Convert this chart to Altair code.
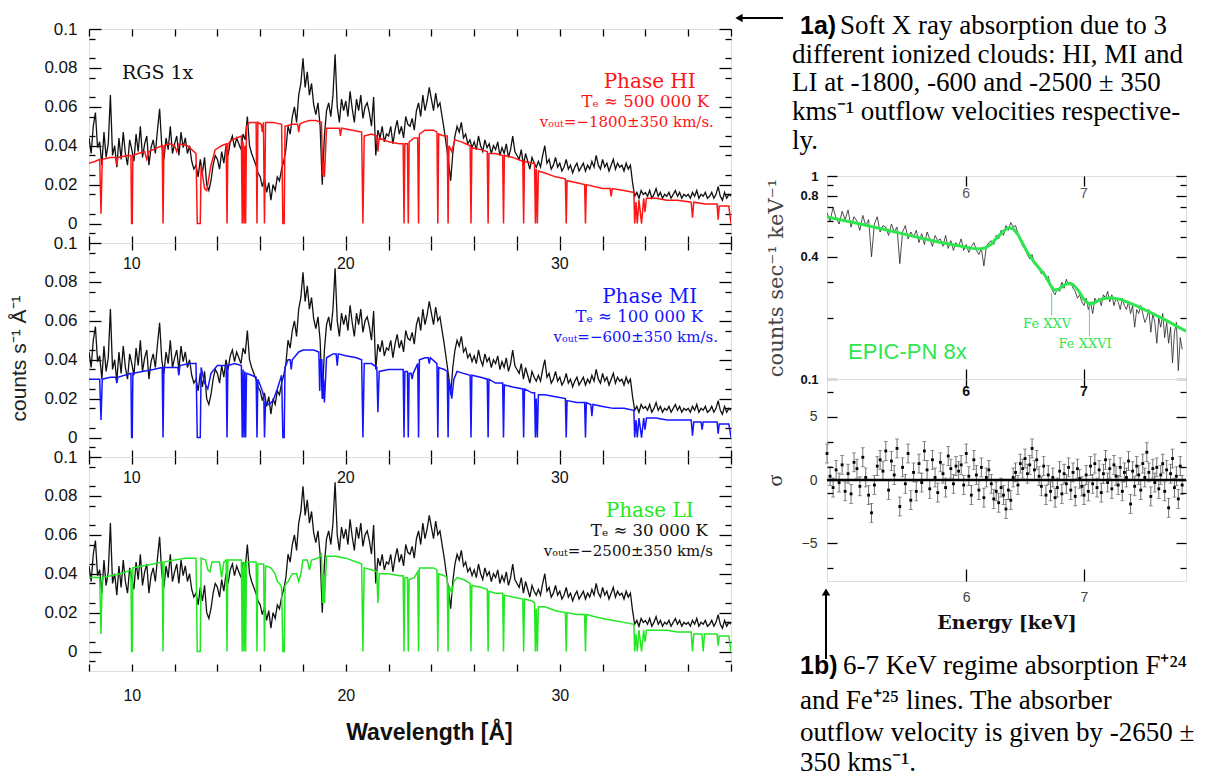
import altair as alt
import pandas as pd

SANS = "Liberation Sans"
SERIF = "Liberation Serif"
WIDE_SERIF = "DejaVu Serif"
RED = "#ff1414"
BLUE = "#1414ff"
GREEN = "#22e822"
EPIC_GREEN = "#2ee64e"

# ---------------- RGS soft X-ray spectrum ----------------
WAVE = [
    8.0, 8.1, 8.2, 8.3, 8.4, 8.5, 8.6, 8.7, 8.8, 8.9,
    9.0, 9.1, 9.2, 9.3, 9.4, 9.5, 9.6, 9.7, 9.8, 9.9,
    10.0, 10.1, 10.2, 10.3, 10.4, 10.5, 10.6, 10.7, 10.8, 10.9,
    11.0, 11.1, 11.2, 11.3, 11.4, 11.5, 11.6, 11.7, 11.8, 11.9,
    12.0, 12.1, 12.2, 12.3, 12.4, 12.5, 12.6, 12.7, 12.8, 12.9,
    13.0, 13.1, 13.2, 13.3, 13.4, 13.5, 13.6, 13.7, 13.8, 13.9,
    14.0, 14.1, 14.2, 14.3, 14.4, 14.5, 14.6, 14.7, 14.8, 14.9,
    15.0, 15.1, 15.2, 15.3, 15.4, 15.5, 15.6, 15.7, 15.8, 15.9,
    16.0, 16.1, 16.2, 16.3, 16.4, 16.5, 16.6, 16.7, 16.8, 16.9,
    17.0, 17.1, 17.2, 17.3, 17.4, 17.5, 17.6, 17.7, 17.8, 17.9,
    18.0, 18.1, 18.2, 18.3, 18.4, 18.5, 18.6, 18.7, 18.8, 18.9,
    19.0, 19.1, 19.2, 19.3, 19.4, 19.5, 19.6, 19.7, 19.8, 19.9,
    20.0, 20.1, 20.2, 20.3, 20.4, 20.5, 20.6, 20.7, 20.8, 20.9,
    21.0, 21.1, 21.2, 21.3, 21.4, 21.5, 21.6, 21.7, 21.8, 21.9,
    22.0, 22.1, 22.2, 22.3, 22.4, 22.5, 22.6, 22.7, 22.8, 22.9,
    23.0, 23.1, 23.2, 23.3, 23.4, 23.5, 23.6, 23.7, 23.8, 23.9,
    24.0, 24.1, 24.2, 24.3, 24.4, 24.5, 24.6, 24.7, 24.8, 24.9,
    25.0, 25.1, 25.2, 25.3, 25.4, 25.5, 25.6, 25.7, 25.8, 25.9,
    26.0, 26.1, 26.2, 26.3, 26.4, 26.5, 26.6, 26.7, 26.8, 26.9,
    27.0, 27.1, 27.2, 27.3, 27.4, 27.5, 27.6, 27.7, 27.8, 27.9,
    28.0, 28.1, 28.2, 28.3, 28.4, 28.5, 28.6, 28.7, 28.8, 28.9,
    29.0, 29.1, 29.2, 29.3, 29.4, 29.5, 29.6, 29.7, 29.8, 29.9,
    30.0, 30.1, 30.2, 30.3, 30.4, 30.5, 30.6, 30.7, 30.8, 30.9,
    31.0, 31.1, 31.2, 31.3, 31.4, 31.5, 31.6, 31.7, 31.8, 31.9,
    32.0, 32.1, 32.2, 32.3, 32.4, 32.5, 32.6, 32.7, 32.8, 32.9,
    33.0, 33.1, 33.2, 33.3, 33.4, 33.5, 33.6, 33.7, 33.8, 33.9,
    34.0, 34.1, 34.2, 34.3, 34.4, 34.5, 34.6, 34.7, 34.8, 34.9,
    35.0, 35.1, 35.2, 35.3, 35.4, 35.5, 35.6, 35.7, 35.8, 35.9,
    36.0, 36.1, 36.2, 36.3, 36.4, 36.5, 36.6, 36.7, 36.8, 36.9,
    37.0, 37.1, 37.2, 37.3, 37.4, 37.5, 37.6, 37.7, 37.8, 37.9,
    38.0,
]
RGS_FLUX = [
    0.044, 0.036, 0.050, 0.057, 0.039, 0.042, 0.030, 0.047, 0.034, 0.041,
    0.066, 0.035, 0.040, 0.029, 0.044, 0.033, 0.047, 0.036, 0.030, 0.043,
    0.038, 0.032, 0.046, 0.037, 0.050, 0.034, 0.041, 0.045, 0.030, 0.039,
    0.043, 0.036, 0.048, 0.059, 0.040, 0.033, 0.044, 0.038, 0.050, 0.036,
    0.041, 0.045, 0.035, 0.047, 0.039, 0.044, 0.036, 0.040, 0.032, 0.028,
    0.030, 0.024, 0.033, 0.026, 0.034, 0.020, 0.017, 0.022, 0.030, 0.035,
    0.033, 0.028, 0.037, 0.031, 0.040, 0.035, 0.042, 0.045, 0.039, 0.044,
    0.041, 0.038, 0.046, 0.043, 0.055, 0.040, 0.036, 0.033, 0.030, 0.026,
    0.024, 0.019, 0.023, 0.016, 0.021, 0.012, 0.020, 0.017, 0.024, 0.022,
    0.028, 0.032, 0.038, 0.050, 0.046, 0.055, 0.060, 0.052, 0.066, 0.072,
    0.085, 0.070, 0.078, 0.066, 0.072, 0.061, 0.056, 0.062, 0.050, 0.020,
    0.045, 0.058, 0.062, 0.055, 0.066, 0.087, 0.060, 0.052, 0.064, 0.058,
    0.063, 0.055, 0.068, 0.059, 0.052, 0.064, 0.058, 0.066, 0.054, 0.060,
    0.062, 0.057, 0.050, 0.065, 0.035, 0.048, 0.044, 0.050, 0.042, 0.046,
    0.045, 0.050, 0.041, 0.048, 0.053, 0.046, 0.050, 0.044, 0.055, 0.051,
    0.050, 0.054, 0.048, 0.058, 0.062, 0.055, 0.066, 0.058, 0.063, 0.070,
    0.064, 0.058, 0.067, 0.060, 0.062, 0.055, 0.048, 0.040, 0.032, 0.022,
    0.036, 0.045, 0.050, 0.047, 0.052, 0.044, 0.046, 0.041, 0.043, 0.039,
    0.042, 0.038, 0.045, 0.040, 0.037, 0.043, 0.039, 0.041, 0.036, 0.040,
    0.038, 0.042, 0.035, 0.039, 0.036, 0.041, 0.034, 0.038, 0.045, 0.037,
    0.035, 0.033, 0.038, 0.030, 0.036, 0.032, 0.028, 0.034, 0.031, 0.029,
    0.032, 0.029, 0.035, 0.040, 0.031, 0.033, 0.028, 0.030, 0.034, 0.029,
    0.031, 0.027, 0.029, 0.033, 0.028, 0.030, 0.026, 0.029, 0.031, 0.027,
    0.029, 0.031, 0.027, 0.030, 0.028, 0.032, 0.029, 0.035, 0.030, 0.028,
    0.033, 0.029, 0.031, 0.027, 0.030, 0.033, 0.028, 0.031, 0.029, 0.030,
    0.027, 0.031, 0.028, 0.030, 0.021, 0.014, 0.016, 0.013, 0.017, 0.015,
    0.016, 0.014, 0.017, 0.013, 0.015, 0.018, 0.014, 0.016, 0.013, 0.015,
    0.014, 0.016, 0.013, 0.015, 0.017, 0.014, 0.016, 0.013, 0.015, 0.014,
    0.015, 0.013, 0.016, 0.014, 0.017, 0.013, 0.015, 0.014, 0.016, 0.013,
    0.014, 0.016, 0.013, 0.015, 0.019, 0.014, 0.012, 0.016, 0.013, 0.015,
    0.014,
]

# model absorption spectra (wavelength, flux)
HI_MODEL = [
    (8.0, .031), (8.3, .032), (8.5, .033), (8.56, .005), (8.62, .033), (9.0, .034), (9.25, .034), (9.3, .030),
    (9.35, .034), (9.8, .035), (9.96, .035), (9.99, 0), (10.02, 0), (10.05, .035), (10.3, .036), (10.6, .037),
    (10.7, .033), (10.8, .037), (11.2, .039), (11.42, .040), (11.46, 0), (11.5, .040), (11.8, .041), (12.0, .040),
    (12.1, .037), (12.2, .041), (12.6, .040), (12.8, .038), (13.0, .036), (13.06, 0), (13.2, 0), (13.24, .030),
    (13.4, .018), (13.5, .017), (13.7, .030), (13.9, .038), (14.2, .040), (14.41, .041), (14.45, 0), (14.49, .041),
    (14.7, .043), (14.9, .044), (15.12, .045), (15.16, 0), (15.2, .042), (15.24, 0), (15.28, .040), (15.32, 0),
    (15.36, .050), (15.5, .052), (15.81, .052), (15.85, 0), (15.89, .052), (16.05, .051), (16.1, .047), (16.15, .052),
    (16.2, 0), (16.25, .052), (16.6, .052), (17.0, .051), (17.06, 0), (17.12, 0), (17.16, .050), (17.5, .051),
    (17.75, .051), (17.8, .047), (17.85, .051), (18.0, .052), (18.3, .053), (18.6, .053), (18.86, .052), (18.92, .025),
    (18.96, .032), (19.0, .024), (19.1, .049), (19.5, .049), (19.7, .049), (19.75, .045), (19.8, .049), (20.3, .048),
    (20.74, .047), (20.8, 0), (20.86, .045), (21.2, .046), (21.45, .045), (21.5, .037), (21.56, .044), (22.0, .042),
    (22.5, .041), (22.68, .041), (22.72, 0), (22.76, .041), (22.88, .041), (22.92, 0), (22.96, .042), (23.2, .044),
    (23.36, .044), (23.4, 0), (23.44, .046), (23.7, .048), (24.1, .048), (24.26, .047), (24.3, 0), (24.34, .046),
    (24.6, .045), (24.74, .045), (24.78, 0), (24.82, .040), (24.95, .037), (25.1, .043), (25.4, .042), (25.6, .041),
    (25.81, .040), (25.85, 0), (25.89, .039), (26.3, .038), (26.61, .037), (26.65, 0), (26.69, .036), (27.0, .036),
    (27.33, .035), (27.37, 0), (27.41, .035), (27.8, .034), (28.27, .032), (28.31, 0), (28.35, .032), (28.7, .031),
    (28.82, .031), (28.86, 0), (28.9, .028), (28.95, 0), (29.0, .027), (29.3, .026), (29.8, .024), (30.26, .023),
    (30.3, 0), (30.34, .022), (30.8, .021), (31.16, .020), (31.2, 0), (31.24, .020), (31.6, .019), (32.0, .018),
    (32.35, .018), (32.4, .014), (32.45, .018), (33.0, .017), (33.46, .016), (33.5, 0), (33.56, .011), (33.62, 0),
    (33.7, .012), (33.82, 0), (33.92, .013), (33.98, .006), (34.05, .013), (34.5, .013), (35.0, .012), (35.5, .012),
    (36.14, .011), (36.2, .003), (36.26, .011), (36.8, .010), (37.35, .010), (37.4, .002), (37.45, .009), (37.9, .009),
    (38.0, 0),
]
MI_MODEL = [
    (8.0, .030), (8.5, .030), (8.56, .009), (8.62, .030), (9.0, .031), (9.25, .031), (9.3, .028), (9.35, .031),
    (9.96, .033), (9.99, 0), (10.02, 0), (10.05, .033), (10.5, .034), (11.0, .035), (11.42, .036), (11.46, 0),
    (11.5, .036), (12.0, .036), (12.15, .036), (12.2, .032), (12.25, .037), (12.7, .038), (13.0, .038), (13.06, 0),
    (13.2, 0), (13.24, .036), (13.4, .028), (13.55, .025), (13.7, .033), (14.0, .037), (14.41, .037), (14.45, 0),
    (14.49, .037), (14.8, .038), (15.12, .037), (15.16, 0), (15.2, .035), (15.24, 0), (15.28, .034), (15.32, 0),
    (15.36, .033), (15.6, .032), (15.81, .031), (15.85, 0), (15.89, .030), (16.1, .024), (16.17, .021), (16.2, 0),
    (16.25, .018), (16.4, .017), (16.6, .019), (16.8, .025), (17.0, .032), (17.06, 0), (17.12, 0), (17.16, .036),
    (17.3, .040), (17.4, .040), (17.45, .035), (17.5, .040), (17.8, .044), (18.0, .045), (18.5, .045), (18.74, .044),
    (18.78, .024), (18.82, .040), (18.88, .040), (18.92, .020), (18.96, .030), (19.0, .018), (19.1, .041), (19.4, .043),
    (19.55, .043), (19.6, .037), (19.65, .043), (20.0, .042), (20.5, .041), (20.74, .040), (20.8, 0), (20.86, .038),
    (21.2, .038), (21.45, .036), (21.5, .013), (21.56, .034), (22.0, .035), (22.5, .035), (22.68, .035), (22.72, 0),
    (22.76, .034), (22.88, .034), (22.92, 0), (22.96, .033), (23.05, .033), (23.1, .030), (23.15, .033), (23.36, .038),
    (23.4, 0), (23.44, .040), (23.7, .041), (23.85, .041), (23.9, .038), (23.95, .041), (24.26, .038), (24.3, 0),
    (24.34, .036), (24.6, .035), (24.74, .034), (24.78, 0), (24.82, .030), (24.95, .020), (25.05, .030), (25.2, .034),
    (25.5, .033), (25.81, .032), (25.85, 0), (25.89, .032), (26.3, .031), (26.61, .030), (26.65, 0), (26.69, .030),
    (27.0, .028), (27.33, .028), (27.37, 0), (27.41, .027), (27.8, .026), (28.27, .025), (28.31, 0), (28.35, .025),
    (28.7, .023), (28.82, .023), (28.86, 0), (28.9, .020), (28.95, 0), (29.0, .022), (29.3, .022), (29.8, .021),
    (30.26, .020), (30.3, 0), (30.34, .019), (30.8, .018), (31.16, .018), (31.2, 0), (31.24, .018), (31.45, .017),
    (31.5, .011), (31.55, .017), (32.0, .016), (32.5, .015), (33.0, .015), (33.46, .014), (33.5, 0), (33.56, .009),
    (33.62, 0), (33.7, .010), (33.82, 0), (33.92, .010), (33.98, .004), (34.05, .010), (34.5, .010), (35.0, .009),
    (35.5, .009), (36.14, .009), (36.2, .001), (36.26, .008), (36.6, .008), (36.65, .004), (36.7, .008), (37.35, .008),
    (37.4, .002), (37.45, .007), (37.9, .007), (38.0, 0),
]
LI_MODEL = [
    (8.0, .038), (8.5, .038), (8.56, .009), (8.62, .038), (9.0, .039), (9.5, .040), (9.96, .042), (9.99, 0),
    (10.02, 0), (10.05, .043), (10.5, .044), (11.0, .045), (11.42, .046), (11.46, 0), (11.5, .046), (12.0, .047),
    (12.5, .048), (13.0, .048), (13.06, 0), (13.2, 0), (13.24, .048), (13.45, .047), (13.55, .042), (13.65, .041),
    (13.75, .046), (14.1, .046), (14.2, .038), (14.3, .046), (14.41, .047), (14.45, 0), (14.49, .047), (14.8, .047),
    (15.12, .047), (15.16, 0), (15.2, .046), (15.24, 0), (15.28, .046), (15.32, 0), (15.36, .046), (15.6, .046),
    (15.81, .046), (15.85, 0), (15.89, .045), (16.16, .045), (16.2, 0), (16.25, .044), (16.5, .043), (16.7, .040),
    (16.8, .036), (16.9, .035), (17.0, .033), (17.06, 0), (17.12, 0), (17.16, .034), (17.3, .036), (17.5, .040),
    (17.7, .040), (17.8, .036), (17.9, .040), (18.0, .047), (18.2, .047), (18.3, .042), (18.4, .047), (18.7, .048),
    (18.86, .050), (18.92, .025), (18.96, .040), (19.0, .025), (19.1, .049), (19.5, .049), (20.0, .048), (20.5, .046),
    (20.74, .045), (20.8, 0), (20.86, .043), (21.2, .042), (21.45, .041), (21.5, .025), (21.56, .040), (22.0, .040),
    (22.5, .039), (22.68, .039), (22.72, 0), (22.76, .038), (22.88, .038), (22.92, 0), (22.96, .037), (23.2, .038),
    (23.36, .041), (23.4, 0), (23.44, .043), (23.7, .043), (24.1, .043), (24.26, .042), (24.3, 0), (24.34, .040),
    (24.6, .039), (24.74, .038), (24.78, 0), (24.82, .034), (24.95, .030), (25.05, .036), (25.2, .038), (25.5, .037),
    (25.81, .035), (25.85, 0), (25.89, .034), (26.3, .033), (26.61, .032), (26.65, 0), (26.69, .031), (27.0, .030),
    (27.33, .030), (27.37, 0), (27.41, .029), (27.8, .028), (28.27, .027), (28.31, 0), (28.35, .027), (28.7, .026),
    (28.82, .025), (28.86, 0), (28.9, .022), (28.95, 0), (29.0, .023), (29.3, .023), (29.8, .021), (30.26, .020),
    (30.3, 0), (30.34, .020), (30.8, .019), (31.16, .019), (31.2, 0), (31.24, .019), (31.6, .018), (32.0, .017),
    (32.5, .016), (33.0, .015), (33.46, .014), (33.5, 0), (33.56, .009), (33.62, 0), (33.7, .011), (33.82, 0),
    (33.92, .011), (33.98, .005), (34.05, .011), (34.5, .011), (35.0, .011), (35.5, .010), (36.14, .010), (36.2, 0),
    (36.26, .009), (36.64, .009), (36.7, 0), (36.76, .009), (37.35, .009), (37.4, .003), (37.45, .008), (37.9, .008),
    (38.0, 0),
]

X_TICKS = [8, 10, 12, 14, 16, 18, 20, 22, 24, 26, 28, 30, 32, 34, 36, 38]
X_LABELS = [10, 20, 30]
Y_MAJOR = [0, 0.02, 0.04, 0.06, 0.08, 0.1]
Y_MINOR = [-0.005, 0.005, 0.015, 0.025, 0.035, 0.045, 0.055, 0.065, 0.075, 0.085, 0.095]

# annotation text, anchored in data coordinates (wavelength, flux)
HI_NOTES = [("Phase HI", 34.2, 0.0730), ("Tₑ ≈ 500 000 K", 36.97, 0.0627), ("vₒᵤₜ=−1800±350 km/s.", 37.2, 0.0520)]
MI_NOTES = [("Phase MI", 34.2, 0.0725), ("Tₑ ≈ 100 000 K", 36.69, 0.0622), ("vₒᵤₜ=−600±350 km/s.", 37.39, 0.0519)]
LI_NOTES = [("Phase LI", 34.2, 0.0725), ("Tₑ ≈ 30 000 K", 36.92, 0.0622), ("vₒᵤₜ=−2500±350 km/s", 37.16, 0.0519)]
RGS_NOTE = ("RGS 1x", 9.54, 0.0776)
INNER_LABEL_FLUX = 0.0893

# ---------------- EPIC-PN hard X-ray spectrum ----------------
EPIC_E = [
    5.00, 5.02, 5.04, 5.06, 5.08, 5.10, 5.12, 5.14, 5.16, 5.18,
    5.20, 5.22, 5.24, 5.26, 5.28, 5.30, 5.32, 5.34, 5.36, 5.38,
    5.40, 5.42, 5.44, 5.46, 5.48, 5.50, 5.52, 5.54, 5.56, 5.58,
    5.60, 5.62, 5.64, 5.66, 5.68, 5.70, 5.72, 5.74, 5.76, 5.78,
    5.80, 5.82, 5.84, 5.86, 5.88, 5.90, 5.92, 5.94, 5.96, 5.98,
    6.00, 6.02, 6.04, 6.06, 6.08, 6.10, 6.12, 6.14, 6.16, 6.18,
    6.20, 6.22, 6.24, 6.26, 6.28, 6.30, 6.32, 6.34, 6.36, 6.38,
    6.40, 6.42, 6.44, 6.46, 6.48, 6.50, 6.52, 6.54, 6.56, 6.58,
    6.60, 6.62, 6.64, 6.66, 6.68, 6.70, 6.72, 6.74, 6.76, 6.78,
    6.80, 6.82, 6.84, 6.86, 6.88, 6.90, 6.92, 6.94, 6.96, 6.98,
    7.00, 7.02, 7.04, 7.06, 7.08, 7.10, 7.12, 7.14, 7.16, 7.18,
    7.20, 7.22, 7.24, 7.26, 7.28, 7.30, 7.32, 7.34, 7.36, 7.38,
    7.40, 7.42, 7.44, 7.46, 7.48, 7.50, 7.52, 7.54, 7.56, 7.58,
    7.60, 7.62, 7.64, 7.66, 7.68, 7.70, 7.72, 7.74, 7.76, 7.78,
    7.80, 7.82, 7.84, 7.86, 7.88, 7.90, 7.92, 7.94, 7.96,
]
EPIC_RATE = [
    0.66, 0.60, 0.70, 0.62, 0.58, 0.67, 0.61, 0.68, 0.56, 0.63,
    0.60, 0.54, 0.64, 0.57, 0.61, 0.40, 0.58, 0.63, 0.53, 0.57,
    0.56, 0.51, 0.58, 0.53, 0.56, 0.37, 0.53, 0.57, 0.49, 0.53,
    0.50, 0.54, 0.47, 0.52, 0.46, 0.53, 0.49, 0.45, 0.51, 0.48,
    0.49, 0.45, 0.51, 0.44, 0.48, 0.43, 0.47, 0.45, 0.49, 0.43,
    0.46, 0.42, 0.45, 0.47, 0.43, 0.41, 0.44, 0.36, 0.45, 0.47,
    0.48, 0.46, 0.51, 0.49, 0.54, 0.51, 0.57, 0.54, 0.59, 0.56,
    0.57, 0.52, 0.49, 0.45, 0.44, 0.41, 0.39, 0.41, 0.37, 0.36,
    0.35, 0.33, 0.34, 0.31, 0.32, 0.29, 0.27, 0.26, 0.28, 0.27,
    0.30, 0.28, 0.31, 0.29, 0.30, 0.28, 0.27, 0.25, 0.26, 0.24,
    0.23, 0.25, 0.22, 0.24, 0.21, 0.25, 0.24, 0.25, 0.23, 0.26,
    0.25, 0.27, 0.24, 0.26, 0.23, 0.25, 0.24, 0.22, 0.25, 0.23,
    0.22, 0.24, 0.21, 0.23, 0.18, 0.22, 0.21, 0.23, 0.21, 0.19,
    0.20, 0.22, 0.17, 0.21, 0.19, 0.15, 0.20, 0.18, 0.21, 0.16,
    0.19, 0.15, 0.18, 0.12, 0.17, 0.19, 0.11, 0.16, 0.14,
]
EPIC_MODEL = [
    (5.0, 0.628), (5.2, 0.585), (5.4, 0.543), (5.6, 0.504), (5.8, 0.470), (5.95, 0.452), (6.05, 0.440),
    (6.1, 0.437), (6.15, 0.442), (6.2, 0.462), (6.25, 0.500), (6.3, 0.535), (6.34, 0.556), (6.38, 0.550),
    (6.42, 0.515), (6.46, 0.465), (6.5, 0.420), (6.55, 0.382), (6.6, 0.352), (6.65, 0.325), (6.7, 0.290),
    (6.73, 0.274), (6.77, 0.276), (6.82, 0.290), (6.86, 0.296), (6.9, 0.292), (6.95, 0.272), (7.0, 0.246),
    (7.05, 0.234), (7.1, 0.238), (7.15, 0.246), (7.2, 0.250), (7.26, 0.251), (7.35, 0.246), (7.5, 0.229),
    (7.65, 0.211), (7.8, 0.194), (8.0, 0.172),
]
# residuals in sigma units, same energies as EPIC_E
RESID = [
    2.1, 0.3, -0.6, 0.8, -0.2, 1.2, -0.9, 0.5, -1.1, 1.4,
    0.9, -0.5, 1.8, 0.2, -1.2, -2.6, -0.4, 1.1, 1.6, 0.7,
    2.3, -0.8, 1.5, 0.4, 2.5, -2.1, 1.0, -0.3, 2.1, -1.6,
    0.6, -0.9, 1.3, -0.2, 2.3, 0.8, -0.7, 1.6, 0.2, -1.0,
    1.4, 0.5, -0.6, 1.9, 0.9, -0.3, 1.1, 0.7, 1.2, -0.4,
    2.1, 0.3, -1.2, 1.6, 0.4, -0.8, 1.0, -1.4, 0.2, 0.8,
    -0.3, -1.5, -0.9, -1.8, -0.6, -1.2, -2.3, -0.8, -1.6, 0.2,
    0.6, -0.4, 1.3, 0.9, 1.7, 0.5, 1.2, 2.5, 0.8, 1.6,
    0.3, -0.5, 1.1, -1.2, 0.4, -0.9, 0.2, -1.4, -0.6, 0.7,
    -1.1, 0.5, -0.3, 1.0, -0.8, 0.6, -1.3, 0.9, 0.1, -0.5,
    -1.2, 0.4, -0.9, 1.1, -0.3, 1.3, -0.6, 0.8, -1.0, 0.5,
    1.6, -0.2, 0.9, -0.7, 1.2, 0.3, -0.4, 1.0, -0.9, 0.6,
    0.2, 1.5, -1.9, 0.7, -0.5, 1.1, 0.4, -0.8, 1.3, 0.2,
    2.2, 0.6, -1.3, 0.9, -0.2, 1.0, -0.7, 0.4, 1.3, -0.9,
    0.8, -2.2, 0.5, 1.7, -0.6, 0.3, -1.5, 1.1, -0.4,
]
RESID_ERR = 0.75

E_TICKS = [6, 7]
EY_MAJOR = [0.1, 0.4, 0.8, 1]
EY_MINOR = [0.2, 0.3, 0.5, 0.6, 0.7, 0.9]
R_MAJOR = [-5, 0, 5]
R_MINOR = [-7, -3, -1, 1, 3, 7]
# (label, line energy, line top, line bottom, label energy, label rate)
FE_LINES = [("Fe XXV", 6.71, 0.265, 0.205, 6.67, 0.187), ("Fe XXVI", 7.05, 0.234, 0.162, 7.01, 0.149)]
EPIC_NOTE = ("EPIC-PN 8x", 5.14, 0.136)
TOP_LABEL_RATE = 0.815
RESID_LABEL_SIGMA = 7.0

TEXT_1A = ["Soft X ray absorption due to 3", "different ionized clouds: HI, MI and",
           "LI at -1800, -600 and -2500 ± 350", "kms⁻¹ outflow velocities respective-", "ly."]
TEXT_1B = ["6-7 KeV regime absorption F⁺²⁴", "and Fe⁺²⁵ lines. The absorber",
           "outflow velocity is given by -2650 ±", "350 kms⁻¹."]

PW, PH = 642, 214
RW = 359


def axis(orient, values, size, **kw):
    opts = dict(orient=orient, values=values, tickSize=size, offset=-size, domain=False,
                grid=False, labels=False, tickColor="black", tickWidth=1.3, title=None)
    opts.update(kw)
    return alt.Axis(**opts)


def lbl(size, pad, color="#111", weight="normal", font=SANS, **extra):
    d = dict(labels=True, labelFont=font, labelFontSize=size, labelColor=color,
             labelFontWeight=weight, labelPadding=pad)
    d.update(extra)
    return d


def rgs_panel(model, notes, colors, first=False, middle=False, last=False):
    xs = alt.Scale(domain=[8, 38], nice=False, zero=False)
    ys = alt.Scale(domain=[-0.01, 0.1], nice=False, zero=False)
    data = pd.DataFrame({"w": WAVE, "f": RGS_FLUX})
    mdf = pd.DataFrame({"w": [p[0] for p in model], "f": [p[1] for p in model]})

    bkw = {}
    if last:
        bkw = lbl(16, 16, labelExpr="datum.value % 10 == 0 ? datum.label : ''")
        bkw.update(title="Wavelength [Å]", titleFont=SANS, titleFontSize=23, titleFontWeight="bold",
                   titleColor="#111", titlePadding=18, titleX=340)
    lkw = lbl(17, 12, format="~g")
    if middle:
        lkw.update(title="counts  s⁻¹  Å⁻¹", titleFont=SANS, titleFontSize=21, titleFontWeight="normal",
                   titleColor="#222", titlePadding=14, titleY=115)

    layers = [
        alt.Chart(data).mark_line(color="#111", strokeWidth=1.3, clip=True).encode(
            x=alt.X("w:Q", scale=xs, axis=axis("bottom", X_TICKS, 7, **bkw)),
            y=alt.Y("f:Q", scale=ys, axis=axis("left", Y_MAJOR, 12, **lkw))),
        alt.Chart(mdf).mark_line(color=colors[0], strokeWidth=1.5, clip=True).encode(
            x=alt.X("w:Q", scale=xs, axis=axis("top", X_TICKS, 7)),
            y=alt.Y("f:Q", scale=ys, axis=axis("left", Y_MINOR, 6))),
    ]
    yaxes = [axis("right", Y_MAJOR, 12), axis("right", Y_MINOR, 6), None]
    sizes = [20, 16.5, 15]
    aligns = ["center", "right", "right"]
    for i, (t, xw, yf) in enumerate(notes):
        tdf = pd.DataFrame({"t": [t], "w": [xw], "f": [yf]})
        layers.append(alt.Chart(tdf).mark_text(font=WIDE_SERIF, fontSize=sizes[i], align=aligns[i],
                                               baseline="middle", color=colors[i + 1]).encode(
            x=alt.X("w:Q", scale=xs, axis=None),
            y=alt.Y("f:Q", scale=ys, axis=yaxes[i]),
            text="t:N"))
    if first:
        tdf = pd.DataFrame({"t": [RGS_NOTE[0]], "w": [RGS_NOTE[1]], "f": [RGS_NOTE[2]]})
        layers.append(alt.Chart(tdf).mark_text(font=WIDE_SERIF, fontSize=19, align="left", baseline="middle",
                                               color="#111").encode(
            x=alt.X("w:Q", scale=xs, axis=None), y=alt.Y("f:Q", scale=ys, axis=None), text="t:N"))
    else:
        tdf = pd.DataFrame({"w": X_LABELS, "f": [INNER_LABEL_FLUX] * len(X_LABELS)})
        layers.append(alt.Chart(tdf).mark_text(font=SANS, fontSize=16, baseline="middle",
                                               color="#111").encode(
            x=alt.X("w:Q", scale=xs, axis=None), y=alt.Y("f:Q", scale=ys, axis=None), text="w:Q"))
    return alt.layer(*layers).resolve_axis(x="independent", y="independent").properties(width=PW, height=PH)


def epic_panel():
    xs = alt.Scale(type="log", domain=[5, 8], nice=False)
    ys = alt.Scale(type="log", domain=[0.1, 1], nice=False)
    d = pd.DataFrame({"e": EPIC_E, "r": EPIC_RATE})
    m = pd.DataFrame({"e": [p[0] for p in EPIC_MODEL], "r": [p[1] for p in EPIC_MODEL]})
    ykw = lbl(13, 9, weight="bold", format="~g")
    ykw.update(title="counts  sec⁻¹  keV⁻¹", titleFont=WIDE_SERIF, titleFontSize=21, titleFontWeight="normal",
               titleColor="#444", titlePadding=13)
    fe_r = pd.DataFrame({"e": [f[1] for f in FE_LINES], "y1": [f[2] for f in FE_LINES],
                         "y2": [f[3] for f in FE_LINES]})
    fe_t = pd.DataFrame({"t": [f[0] for f in FE_LINES], "e": [f[4] for f in FE_LINES],
                         "r": [f[5] for f in FE_LINES]})
    note = pd.DataFrame({"t": [EPIC_NOTE[0]], "e": [EPIC_NOTE[1]], "r": [EPIC_NOTE[2]]})
    tops = pd.DataFrame({"e": E_TICKS, "r": [TOP_LABEL_RATE] * len(E_TICKS)})
    layers = [
        alt.Chart(d).mark_line(color="#222", strokeWidth=0.8, clip=True).encode(
            x=alt.X("e:Q", scale=xs, axis=axis("bottom", E_TICKS, 10)),
            y=alt.Y("r:Q", scale=ys, axis=axis("left", EY_MAJOR, 10, **ykw))),
        alt.Chart(m).mark_line(color=EPIC_GREEN, strokeWidth=3, clip=True).encode(
            x=alt.X("e:Q", scale=xs, axis=axis("top", E_TICKS, 10)),
            y=alt.Y("r:Q", scale=ys, axis=axis("left", EY_MINOR, 6))),
        alt.Chart(fe_r).mark_rule(color=EPIC_GREEN, strokeWidth=0.9).encode(
            x=alt.X("e:Q", scale=xs, axis=None),
            y=alt.Y("y1:Q", scale=ys, axis=axis("right", EY_MAJOR, 10)), y2="y2:Q"),
        alt.Chart(fe_t).mark_text(font=WIDE_SERIF, fontSize=13, color=EPIC_GREEN, baseline="middle").encode(
            x=alt.X("e:Q", scale=xs, axis=None),
            y=alt.Y("r:Q", scale=ys, axis=axis("right", EY_MINOR, 6)), text="t:N"),
        alt.Chart(note).mark_text(font=SANS, fontSize=22, color=EPIC_GREEN, align="left", baseline="middle").encode(
            x=alt.X("e:Q", scale=xs, axis=None), y=alt.Y("r:Q", scale=ys, axis=None), text="t:N"),
        alt.Chart(tops).mark_text(font=SANS, fontSize=14, color="#555", baseline="middle").encode(
            x=alt.X("e:Q", scale=xs, axis=None), y=alt.Y("r:Q", scale=ys, axis=None), text="e:Q"),
    ]
    return alt.layer(*layers).resolve_axis(x="independent", y="independent").properties(width=RW, height=203)


def resid_panel():
    xs = alt.Scale(type="log", domain=[5, 8], nice=False)
    ys = alt.Scale(domain=[-8, 8], nice=False, zero=False)
    d = pd.DataFrame({"e": EPIC_E, "r": RESID})
    base = alt.Chart(d).transform_calculate(lo=f"datum.r - {RESID_ERR}", hi=f"datum.r + {RESID_ERR}")
    bkw = lbl(14, 9, color="#444")
    bkw.update(title="Energy [keV]", titleFont=WIDE_SERIF, titleFontSize=19, titleFontWeight="bold",
               titleColor="#111", titlePadding=9)
    lkw = lbl(14, 10, color="#333")
    lkw.update(title="σ", titleFont=SERIF, titleFontSize=22, titleFontWeight="normal",
               titleColor="#333", titlePadding=15)
    tops = pd.DataFrame({"e": E_TICKS, "r": [RESID_LABEL_SIGMA] * len(E_TICKS)})
    layers = [
        base.mark_rule(color="#333", strokeWidth=0.7).encode(
            x=alt.X("e:Q", scale=xs, axis=axis("bottom", E_TICKS, 12, **bkw)),
            y=alt.Y("lo:Q", scale=ys, axis=axis("left", R_MAJOR, 10, **lkw)), y2="hi:Q"),
        base.mark_tick(orient="horizontal", size=4, thickness=0.7, color="#333").encode(
            x=alt.X("e:Q", scale=xs, axis=None),
            y=alt.Y("lo:Q", scale=ys, axis=axis("right", R_MINOR, 6))),
        base.mark_tick(orient="horizontal", size=4, thickness=0.7, color="#333").encode(
            x=alt.X("e:Q", scale=xs, axis=None),
            y=alt.Y("hi:Q", scale=ys, axis=None)),
        alt.Chart(d).mark_square(size=8, color="black", opacity=1).encode(
            x=alt.X("e:Q", scale=xs, axis=axis("top", E_TICKS, 8)),
            y=alt.Y("r:Q", scale=ys, axis=axis("left", R_MINOR, 6))),
        alt.Chart(pd.DataFrame({"z": [0]})).mark_rule(color="black", strokeWidth=2.5).encode(
            y=alt.Y("z:Q", scale=ys, axis=axis("right", R_MAJOR, 10))),
        alt.Chart(tops).mark_text(font=SANS, fontSize=14, fontWeight="bold", color="#111", baseline="middle").encode(
            x=alt.X("e:Q", scale=xs, axis=None), y=alt.Y("r:Q", scale=ys, axis=None), text="e:Q"),
    ]
    return alt.layer(*layers).resolve_axis(x="independent", y="independent").properties(width=RW, height=202)


def note_mark(t, x, y, font=SERIF, size=27, weight="normal"):
    return alt.Chart(pd.DataFrame({"t": [t]})).mark_text(
        font=font, fontSize=size, fontWeight=weight, color="#000", align="left",
        baseline="alphabetic", x=x, y=y).encode(text="t:N")


def text_1a():
    one = pd.DataFrame({"k": [0]})
    layers = [
        alt.Chart(one).mark_rule(color="black", strokeWidth=2).encode(
            x=alt.value(-86), x2=alt.value(-44), y=alt.value(-11)),
        alt.Chart(one).mark_point(shape="triangle-left", filled=True, size=70, color="black", opacity=1).encode(
            x=alt.value(-88), y=alt.value(-11)),
        note_mark("1a)", -27, 5, font=SANS, size=25, weight="bold"),
        note_mark(TEXT_1A[0], 13, 5),
    ]
    for i, t in enumerate(TEXT_1A[1:]):
        layers.append(note_mark(t, -35, [34, 62, 91, 120][i]))
    return alt.layer(*layers).properties(width=RW, height=147, view=alt.ViewBackground(stroke="transparent"))


def text_1b():
    one = pd.DataFrame({"k": [0]})
    layers = [
        alt.Chart(one).mark_rule(color="black", strokeWidth=2).encode(
            x=alt.value(-1), y=alt.value(12), y2=alt.value(78)),
        alt.Chart(one).mark_point(shape="triangle-up", filled=True, size=70, color="black", opacity=1).encode(
            x=alt.value(-1), y=alt.value(11)),
        note_mark("1b)", -27, 93, font=SANS, size=25, weight="bold"),
        note_mark(TEXT_1B[0], 16, 93),
    ]
    for i, t in enumerate(TEXT_1B[1:]):
        layers.append(note_mark(t, -27, [128, 160, 190][i]))
    return alt.layer(*layers).properties(width=RW, height=190, view=alt.ViewBackground(stroke="transparent"))


p1 = rgs_panel(HI_MODEL, HI_NOTES, [RED, RED, RED, RED], first=True)
p2 = rgs_panel(MI_MODEL, MI_NOTES, [BLUE, BLUE, BLUE, BLUE], middle=True)
p3 = rgs_panel(LI_MODEL, LI_NOTES, [GREEN, GREEN, "#111", "#111"], last=True)

left = alt.vconcat(p1, p2, p3, spacing=0, bounds="flush")
right = alt.vconcat(text_1a(), epic_panel(), resid_panel(), text_1b(), spacing=0, bounds="flush")

chart = alt.hconcat(left, right, spacing=1).properties(
    padding={"left": 0, "top": 3, "right": 0, "bottom": 0}
).configure_view(stroke="black", strokeWidth=1.5).configure(background="white")

chart.save("out.html", embed_options={"renderer": "svg", "actions": False})
